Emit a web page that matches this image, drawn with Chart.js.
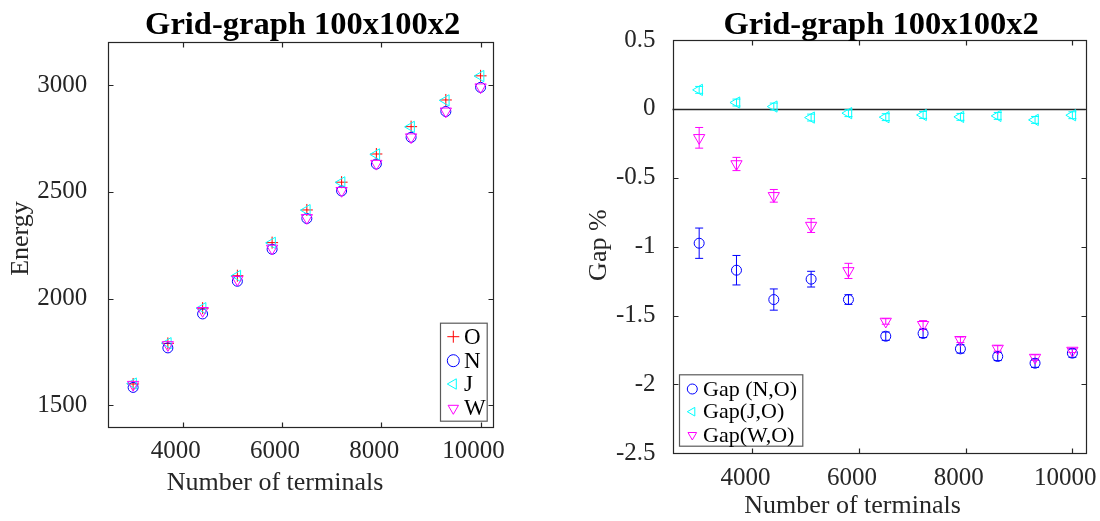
<!DOCTYPE html>
<html>
<head>
<meta charset="utf-8">
<script src="https://cdn.jsdelivr.net/npm/chart.js@4.4.1/dist/chart.umd.min.js"></script>
<style>
  html, body { margin: 0; padding: 0; background: #fff; }
  #wrap { position: relative; width: 1100px; height: 521px; }
  canvas { position: absolute; top: 0; }
  #left { left: 0; }
  #right { left: 550px; }
</style>
</head>
<body>
<div id="wrap">
  <canvas id="left" width="550" height="521"></canvas>
  <canvas id="right" width="550" height="521"></canvas>
</div>
<script>
// number of terminals (x positions of every group)
const terminals = [3000, 3700, 4400, 5100, 5800, 6500, 7200, 7900, 8600, 9300, 10000]

// left panel: energy per method
const energyO = [1600, 1790, 1955, 2107, 2262, 2415, 2545, 2677, 2805, 2930, 3043]
const energyN = [1584, 1769, 1928, 2081, 2231, 2375, 2504, 2630, 2755, 2876, 2989]
const energyJ = [1602, 1791, 1955, 2106, 2261, 2414, 2544, 2675, 2804, 2928, 3042]
const energyW = [1597, 1783, 1943, 2089, 2235, 2378, 2505, 2632, 2756, 2877, 2990]

// right panel: gap % to O, with error bars
const gapN = [-0.975, -1.171, -1.384, -1.236, -1.384, -1.65, -1.63, -1.742, -1.797, -1.846, -1.773]
const gapNErr = [0.11, 0.107, 0.077, 0.057, 0.035, 0.03, 0.03, 0.03, 0.03, 0.03, 0.03]
const gapJ = [0.138, 0.046, 0.017, -0.063, -0.031, -0.06, -0.044, -0.058, -0.051, -0.08, -0.046]
const gapJErr = [0.025, 0.025, 0.025, 0.025, 0.025, 0.025, 0.025, 0.025, 0.025, 0.025, 0.025]
const gapW = [-0.21, -0.40, -0.631, -0.847, -1.176, -1.543, -1.567, -1.676, -1.739, -1.805, -1.754]
const gapWErr = [0.075, 0.048, 0.046, 0.05, 0.055, 0.02, 0.03, 0.02, 0.02, 0.02, 0.015]

// tick labels
const xTicks = [4000, 6000, 8000, 10000]
const energyTicks = [1500, 2000, 2500, 3000]
const gapTicks = [-2.5, -2, -1.5, -1, -0.5, 0, 0.5]

const SERIF = "'Liberation Serif', 'Times New Roman', serif"
const AXIS_COLOR = '#262626'

const points = (ys) => terminals.map((x, i) => ({ x: x, y: ys[i] }))

function marker(label, ys, color, style, rotation, radius, order, errors) {
  return {
    label: label,
    data: points(ys),
    errors: errors,
    showLine: false,
    pointStyle: style,
    rotation: rotation,
    pointRadius: radius,
    pointHoverRadius: radius,
    pointBorderWidth: 1,
    borderColor: color,
    backgroundColor: 'rgba(0,0,0,0)',
    order: order,
  }
}

function drawMarker(ctx, ds, radius, x, y) {
  ctx.strokeStyle = ds.borderColor
  ctx.fillStyle = 'rgba(0,0,0,0)'
  ctx.lineWidth = 1
  Chart.helpers.drawPoint(ctx, {
    pointStyle: ds.pointStyle, rotation: ds.rotation, radius: radius, borderWidth: 1
  }, x, y)
}

// box, inward ticks, zero line, error bars, titles and the in-plot legend
const matlabFrame = {
  id: 'matlabFrame',
  beforeDatasetsDraw(chart, args, opts) {
    const ctx = chart.ctx
    const { x, y } = chart.scales
    const a = chart.chartArea
    ctx.save()
    if (opts.zeroLine) {
      const py = Math.round(y.getPixelForValue(0)) + 0.5
      ctx.strokeStyle = AXIS_COLOR
      ctx.lineWidth = 1.3
      ctx.beginPath(); ctx.moveTo(a.left, py); ctx.lineTo(a.right, py); ctx.stroke()
    }
    chart.data.datasets.forEach((ds) => {
      if (!ds.errors) return
      ctx.strokeStyle = ds.borderColor
      ctx.lineWidth = 1
      ds.data.forEach((p, j) => {
        const e = ds.errors[j]
        const px = x.getPixelForValue(p.x)
        const top = y.getPixelForValue(p.y + e)
        const bot = y.getPixelForValue(p.y - e)
        ctx.beginPath()
        ctx.moveTo(px, top); ctx.lineTo(px, bot)
        ctx.moveTo(px - 4, top); ctx.lineTo(px + 4, top)
        ctx.moveTo(px - 4, bot); ctx.lineTo(px + 4, bot)
        ctx.stroke()
      })
    })
    ctx.restore()
  },
  afterDraw(chart, args, opts) {
    const ctx = chart.ctx
    const { x, y } = chart.scales
    const a = chart.chartArea
    const L = Math.round(a.left) + 0.5, R = Math.round(a.right) + 0.5
    const T = Math.round(a.top) + 0.5, B = Math.round(a.bottom) + 0.5
    ctx.save()
    ctx.strokeStyle = AXIS_COLOR
    ctx.lineWidth = 1.2
    ctx.strokeRect(L, T, R - L, B - T)
    ctx.beginPath()
    x.ticks.forEach((t) => {
      const px = Math.round(x.getPixelForValue(t.value)) + 0.5
      ctx.moveTo(px, B); ctx.lineTo(px, B - 5)
      ctx.moveTo(px, T); ctx.lineTo(px, T + 5)
    })
    y.ticks.forEach((t) => {
      const py = Math.round(y.getPixelForValue(t.value)) + 0.5
      ctx.moveTo(L, py); ctx.lineTo(L + 5, py)
      ctx.moveTo(R, py); ctx.lineTo(R - 5, py)
    })
    ctx.stroke()

    // title
    ctx.fillStyle = '#000'
    ctx.font = `bold 32.5px ${SERIF}`
    ctx.textAlign = 'center'
    ctx.textBaseline = 'alphabetic'
    ctx.fillText(opts.title, (a.left + a.right) / 2 + 2, 34)

    // axis labels
    ctx.fillStyle = AXIS_COLOR
    ctx.font = `26px ${SERIF}`
    ctx.fillText(opts.xLabel, (a.left + a.right) / 2 + opts.xLabelShift, opts.xLabelBaseline)
    ctx.save()
    ctx.translate(opts.yLabelX, (a.top + a.bottom) / 2 + opts.yLabelShift)
    ctx.rotate(-Math.PI / 2)
    ctx.fillText(opts.yLabel, 0, 0)
    ctx.restore()

    // legend
    const lg = opts.legend
    ctx.fillStyle = '#fff'
    ctx.fillRect(lg.left, lg.top, lg.width, lg.height)
    ctx.strokeStyle = '#5a5a5a'
    ctx.lineWidth = 1.2
    ctx.strokeRect(lg.left + 0.5, lg.top + 0.5, lg.width, lg.height)
    chart.data.datasets.forEach((ds, i) => {
      const ry = lg.rows[i]
      drawMarker(ctx, ds, lg.radius, lg.symbolX, ry)
      ctx.fillStyle = '#000'
      ctx.font = `${lg.fontSize}px ${SERIF}`
      ctx.textAlign = 'left'
      ctx.textBaseline = 'middle'
      ctx.fillText(ds.label, lg.textX, ry + 1)
    })
    ctx.restore()
  }
}

// keep the plot box where the reference has it, whatever the labels overhang
const noLabelPadding = (s) => {
  s.paddingLeft = 0
  s.paddingRight = 0
  s.paddingTop = 0
  s.paddingBottom = 0
}

function xScale(height) {
  return {
    type: 'linear',
    min: 2500,
    max: 10250,
    grid: { display: false, drawTicks: false },
    border: { display: false },
    afterBuildTicks: (s) => { s.ticks = xTicks.map((v) => ({ value: v })) },
    afterFit: (s) => { s.height = height; noLabelPadding(s) },
    ticks: {
      autoSkip: false,
      maxRotation: 0,
      padding: 10,
      labelOffset: -7,
      color: AXIS_COLOR,
      font: { family: SERIF, size: 25 },
      callback: (v) => String(v),
    },
  }
}

function yScale(min, max, tickValues, width, padding) {
  return {
    type: 'linear',
    min: min,
    max: max,
    grid: { display: false, drawTicks: false },
    border: { display: false },
    afterBuildTicks: (s) => { s.ticks = tickValues.map((v) => ({ value: v })) },
    afterFit: (s) => { s.width = width; noLabelPadding(s) },
    ticks: {
      autoSkip: false,
      padding: padding,
      color: AXIS_COLOR,
      font: { family: SERIF, size: 25 },
      callback: (v) => String(Math.round(v * 10) / 10),
    },
  }
}

const common = {
  responsive: false,
  animation: false,
  devicePixelRatio: 1,
  events: [],
}

new Chart(document.getElementById('left'), {
  type: 'scatter',
  data: {
    datasets: [
      marker('O', energyO, '#ff0000', 'cross', 0, 6, 3),
      marker('N', energyN, '#0000ff', 'circle', 0, 5, 2),
      marker('J', energyJ, '#00ffff', 'triangle', 270, 6.5, 1),
      marker('W', energyW, '#ff00ff', 'triangle', 180, 6.5, 0),
    ]
  },
  options: {
    ...common,
    layout: { padding: { left: 0, top: 42.3, right: 57, bottom: 0 } },
    scales: {
      x: xScale(94.3),
      y: yScale(1400, 3200, energyTicks, 108.3, 21),
    },
    plugins: {
      legend: { display: false },
      tooltip: { enabled: false },
      matlabFrame: {
        title: 'Grid-graph 100x100x2',
        xLabel: 'Number of terminals',
        xLabelShift: -25.6,
        xLabelBaseline: 490,
        yLabel: 'Energy',
        yLabelX: 28,
        yLabelShift: 4,
        legend: {
          left: 440, top: 322.7, width: 46.7, height: 98,
          rows: [336.7, 360.7, 384, 408.3],
          symbolX: 453.3, textX: 464, radius: 6, fontSize: 23,
        },
      },
    },
  },
  plugins: [matlabFrame],
})

new Chart(document.getElementById('right'), {
  type: 'scatter',
  data: {
    datasets: [
      marker('Gap (N,O)', gapN, '#0000ff', 'circle', 0, 5, 2, gapNErr),
      marker('Gap(J,O)', gapJ, '#00ffff', 'triangle', 270, 6.5, 1, gapJErr),
      marker('Gap(W,O)', gapW, '#ff00ff', 'triangle', 180, 6.5, 0, gapWErr),
    ]
  },
  options: {
    ...common,
    layout: { padding: { left: 0, top: 40, right: 14.3, bottom: 0 } },
    scales: {
      x: xScale(67.7),
      y: yScale(-2.5, 0.5, gapTicks, 122.5, 17),
    },
    plugins: {
      legend: { display: false },
      tooltip: { enabled: false },
      matlabFrame: {
        title: 'Grid-graph 100x100x2',
        zeroLine: true,
        xLabel: 'Number of terminals',
        xLabelShift: -26.6,
        xLabelBaseline: 513,
        yLabel: 'Gap %',
        yLabelX: 56,
        yLabelShift: -1.5,
        legend: {
          left: 129, top: 374.3, width: 123.3, height: 71.4,
          rows: [389, 411.7, 435],
          symbolX: 142.3, textX: 153, radius: 5, fontSize: 22,
        },
      },
    },
  },
  plugins: [matlabFrame],
})
</script>
</body>
</html>
